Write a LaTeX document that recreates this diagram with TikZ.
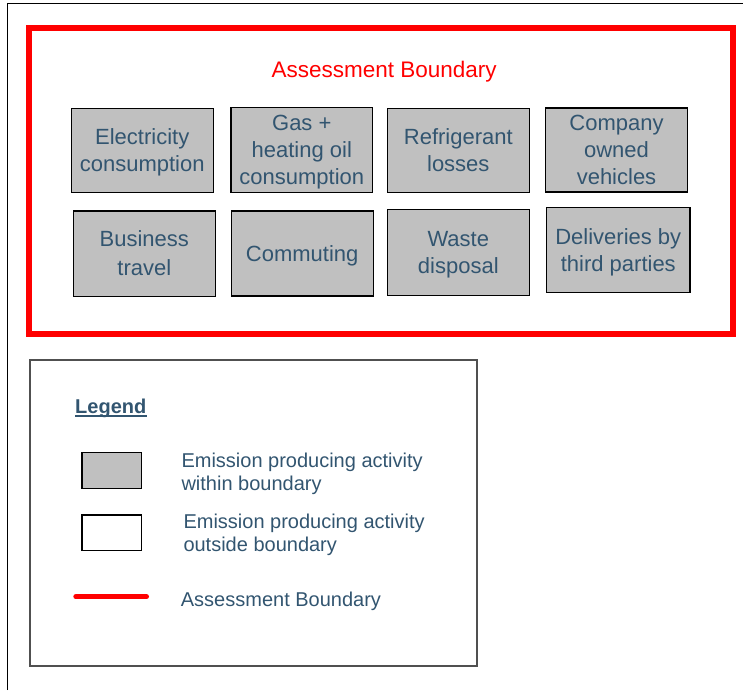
\documentclass[tikz,border=0pt]{standalone}
\usepackage{fontspec}
\setmainfont{Liberation Sans}
\definecolor{txtblue}{RGB}{50,85,112}
\definecolor{boxgray}{RGB}{192,192,192}
\definecolor{legframe}{RGB}{80,80,80}
\newcommand\bxstrut{\rule[-4.66pt]{0pt}{24.56pt}}
\tikzset{
  actbox/.style={draw=black, line width=1.1pt, fill=boxgray, inner sep=0pt,
    align=center, text=txtblue, font=\fontsize{22}{27}\selectfont},
  legtext/.style={anchor=base west, inner sep=0pt, text=txtblue, font=\fontsize{20}{23}\selectfont},
}
\begin{document}
\begin{tikzpicture}[x=1pt,y=-1pt]
\useasboundingbox (0,0) rectangle (743,690);
% outer frame (left and top edges visible)
\coordinate (fa) at (7.3,690);
\coordinate (fb) at (7.3,3.5);
\coordinate (fc) at (743,3.5);
\draw[black, line width=1pt] (fa) -- (fb) -- (fc);
% assessment boundary
\node[draw=red, line width=6pt, minimum width=703.5pt, minimum height=306pt, inner sep=0pt] (bound) at (380.75,181) {};
\node[anchor=base, inner sep=0pt, text=red, font=\fontsize{22.5}{26}\selectfont] (title) at (384.2,77.5) {Assessment Boundary};
% activity boxes
\node[actbox, minimum width=142.3pt, minimum height=84pt] (elec) at (142.2,150.3) {\bxstrut Electricity\\\bxstrut consumption};
\node[actbox, minimum width=141.7pt, minimum height=84.7pt] (gas) at (301.8,149.7) {\bxstrut Gas +\\\bxstrut heating oil\\\bxstrut consumption};
\node[actbox, minimum width=142pt, minimum height=84pt] (refr) at (458.3,150.3) {\bxstrut Refrigerant\\\bxstrut losses};
\node[actbox, minimum width=141.6pt, minimum height=84pt] (comp) at (616.5,150) {\bxstrut Company\\\bxstrut owned\\\bxstrut vehicles};
\node[actbox, minimum width=142pt, minimum height=85.7pt] (bus) at (144.3,253.8) {\bxstrut Business\\[2pt]\bxstrut travel};
\node[actbox, minimum width=142.3pt, minimum height=85pt] (comm) at (302.2,253.5) {\bxstrut Commuting};
\node[actbox, minimum width=142pt, minimum height=85.7pt] (waste) at (458.3,252.2) {\bxstrut Waste\\\bxstrut disposal};
\node[actbox, minimum width=143.3pt, minimum height=85.4pt] (deliv) at (618.3,250) {\bxstrut Deliveries by\\\bxstrut third parties};
% legend
\node[draw=legframe, line width=1.6pt, minimum width=447pt, minimum height=306pt, inner sep=0pt] (legbox) at (253.5,513) {};
\node[anchor=base west, inner sep=0pt, text=txtblue, font=\fontsize{20}{23}\selectfont\bfseries] (legtitle) at (75,413.3) {Legend};
\draw[txtblue, line width=1.4pt] ([yshift=-2.7pt]legtitle.base west) -- ([yshift=-2.7pt]legtitle.base east);
\node[draw=black, line width=1.2pt, fill=boxgray, inner sep=0pt, minimum width=59.7pt, minimum height=36pt] (sampin) at (111.85,470.3) {};
\node[draw=black, line width=1.2pt, fill=white, inner sep=0pt, minimum width=59.7pt, minimum height=35.7pt] (sampout) at (111.85,532.85) {};
\node[legtext] (t1a) at (181.3,467.3) {Emission producing activity};
\node[legtext] (t1b) at (181.3,490) {within boundary};
\node[legtext] (t2a) at (183.3,528.3) {Emission producing activity};
\node[legtext] (t2b) at (183.3,551.7) {outside boundary};
\coordinate (lrA) at (75.8,596.7);
\coordinate (lrB) at (146.5,596.7);
\draw[red, line width=5pt, line cap=round] (lrA) -- (lrB);
\node[legtext] (t3) at (180.7,606.7) {Assessment Boundary};
\end{tikzpicture}
\end{document}
